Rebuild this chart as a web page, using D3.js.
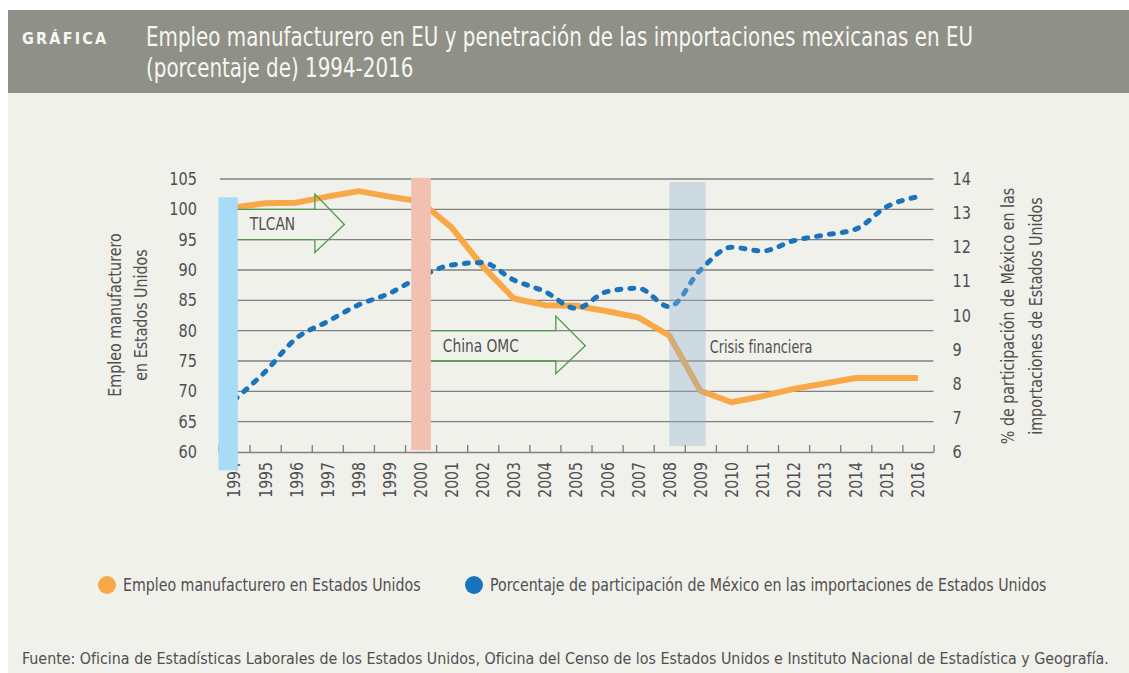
<!DOCTYPE html>
<html lang="es">

<head>
    <meta charset="UTF-8">
    <script src="https://d3js.org/d3.v7.min.js"></script>
    <title>Empleo manufacturero en EU</title>
    <style>
        body {
            margin: 0;
            background: #ffffff;
        }

        svg text {
            font-family: "Liberation Sans Narrow", "DejaVu Sans Condensed", "Roboto", sans-serif;
        }
    </style>
</head>

<body>
<div id="chart"></div>

<script>
    /*------------------- Data --------------------*/
    const years = d3.range(1994, 2017);

    // Empleo manufacturero en Estados Unidos (indice, eje izquierdo)
    const empleo = [100.3, 101.0, 101.1, 102.1, 103.0, 102.1, 101.3, 97.0, 90.6, 85.3,
        84.2, 84.1, 83.2, 82.2, 79.2, 70.1, 68.2, 69.2, 70.4, 71.3, 72.2, 72.2, 72.2];

    // % de participacion de Mexico en las importaciones de EU (eje derecho)
    const participacion = [7.52, 8.35, 9.33, 9.82, 10.31, 10.65, 11.14, 11.48, 11.55, 11.04,
        10.70, 10.21, 10.70, 10.80, 10.26, 11.33, 12.00, 11.89, 12.19, 12.36, 12.53, 13.19, 13.48];

    const leftTicks = [60, 65, 70, 75, 80, 85, 90, 95, 100, 105];
    const rightTicks = [6, 7, 8, 9, 10, 11, 12, 13, 14];

    // shaded periods (start / end in years, top / bottom in left-axis units)
    const periods = [
        {name: "tlcan", start: 1993.5, end: 1994.12, top: 102.0, bottom: 57.0, color: "#a8dbf5", opacity: 1},
        {name: "omc", start: 1999.7, end: 2000.33, top: 105.2, bottom: 60.3, color: "#f1c0b0", opacity: 1},
        {name: "crisis", start: 2008.0, end: 2009.17, top: 104.5, bottom: 61.0, color: "#8fb1d0", opacity: 0.36}
    ];

    // annotation arrows (body between two left-axis values)
    const arrows = [
        {label: "TLCAN", start: 1994.12, bodyEnd: 1996.6, tip: 1997.55, hi: 100, lo: 95, headHi: 102.5, headLo: 92.9},
        {label: "China OMC", start: 2000.33, bodyEnd: 2004.35, tip: 2005.3, hi: 80, lo: 75, headHi: 82.4, headLo: 72.9}
    ];
    const crisisLabel = {label: "Crisis financiera", year: 2009.3, value: 77.3};

    const legendItems = [
        {label: "Empleo manufacturero en Estados Unidos", color: "#f8a847"},
        {label: "Porcentaje de participación de México en las importaciones de Estados Unidos", color: "#1a74bd"}
    ];

    /*------------------- Layout --------------------*/
    const width = 1129;
    const height = 673;
    const textColor = "#4f4f4f";

    // squeeze a text horizontally, the original font is a condensed one
    function condense(sel, k) {
        sel.each(function () {
            const w = this.getComputedTextLength();
            d3.select(this)
                .attr("textLength", w * k)
                .attr("lengthAdjust", "spacingAndGlyphs");
        });
        return sel;
    }

    const svg = d3.select("#chart").append("svg")
        .attr("width", width)
        .attr("height", height);

    // panel background
    svg.append("rect")
        .attr("x", 8).attr("y", 10)
        .attr("width", width - 8).attr("height", height - 10)
        .attr("fill", "#f1f1ec");

    // header
    svg.append("rect")
        .attr("x", 8).attr("y", 10)
        .attr("width", width - 8).attr("height", 83)
        .attr("fill", "#8f9088");

    svg.append("text")
        .attr("x", 22).attr("y", 44)
        .attr("fill", "#f7f7f2")
        .attr("font-size", 16)
        .attr("font-weight", "bold")
        .attr("letter-spacing", 2.2)
        .text("GRÁFICA");

    const titleLines = ["Empleo manufacturero en EU y penetración de las importaciones mexicanas en EU",
        "(porcentaje de) 1994-2016"];
    svg.append("g")
        .selectAll("text")
        .data(titleLines)
        .enter()
        .append("text")
        .attr("x", 146)
        .attr("y", (d, i) => 46 + i * 31)
        .attr("fill", "#f7f7f2")
        .attr("font-size", 26)
        .text(d => d)
        .call(condense, 0.85);

    /*------------------- Scales --------------------*/
    const x = d3.scaleLinear()
        .domain([1993.5, 2016.5])
        .range([218.5, 933.5]);

    const yLeft = d3.scaleLinear()
        .domain([60, 105])
        .range([452, 179]);

    const yRight = d3.scaleLinear()
        .domain([6, 14])
        .range([452, 179]);

    // gridlines
    svg.append("g")
        .selectAll("line")
        .data(leftTicks.filter(d => d > 60))
        .enter()
        .append("line")
        .attr("x1", 220).attr("x2", 933.5)
        .attr("y1", d => yLeft(d)).attr("y2", d => yLeft(d))
        .attr("stroke", "#808080")
        .attr("stroke-width", 1.4);

    // x axis: line with upward ticks between years
    const xTickAxis = svg.append("g")
        .attr("transform", `translate(0,${yLeft(60)})`)
        .call(d3.axisBottom(x)
            .tickValues([1993.5].concat(years.map(d => d + 0.5)))
            .tickSize(-7)
            .tickSizeOuter(0)
            .tickFormat(""));
    xTickAxis.select(".domain").attr("stroke", "#808080").attr("stroke-width", 1.4);
    xTickAxis.selectAll(".tick line").attr("stroke", "#808080").attr("stroke-width", 1.4);

    // x labels
    const xLabelAxis = svg.append("g")
        .attr("transform", `translate(0,${yLeft(60)})`)
        .call(d3.axisBottom(x)
            .tickValues(years)
            .tickSize(0)
            .tickFormat(d3.format("d")));
    xLabelAxis.select(".domain").remove();
    xLabelAxis.selectAll(".tick text")
        .attr("font-size", 17)
        .attr("fill", textColor)
        .attr("text-anchor", "end")
        .attr("dx", "-10px")
        .attr("dy", "0.35em")
        .attr("transform", "rotate(-90)")
        .attr("x", 0)
        .attr("y", 0)
        .call(condense, 0.92);

    // left axis labels
    const leftAxis = svg.append("g")
        .attr("transform", "translate(220,0)")
        .call(d3.axisLeft(yLeft).tickValues(leftTicks).tickSize(0).tickPadding(23));
    leftAxis.select(".domain").remove();
    leftAxis.selectAll(".tick text")
        .attr("font-size", 17.5)
        .attr("fill", textColor)
        .call(condense, 0.92);

    // right axis labels
    const rightAxis = svg.append("g")
        .attr("transform", "translate(933.5,0)")
        .call(d3.axisRight(yRight).tickValues(rightTicks).tickSize(0).tickPadding(19));
    rightAxis.select(".domain").remove();
    rightAxis.selectAll(".tick text")
        .attr("font-size", 17.5)
        .attr("fill", textColor)
        .call(condense, 0.92);

    // axis titles
    const leftTitle = ["Empleo manufacturero", "en Estados Unidos"];
    svg.append("g")
        .attr("transform", "translate(0,315) rotate(-90)")
        .selectAll("text")
        .data(leftTitle)
        .enter()
        .append("text")
        .attr("x", 0)
        .attr("y", (d, i) => 121 + i * 26)
        .attr("text-anchor", "middle")
        .attr("font-size", 18)
        .attr("fill", textColor)
        .text(d => d)
        .call(condense, 0.88);

    const rightTitle = ["% de participación de México en las", "importaciones de Estados Unidos"];
    svg.append("g")
        .attr("transform", "translate(0,316) rotate(-90)")
        .selectAll("text")
        .data(rightTitle)
        .enter()
        .append("text")
        .attr("x", 0)
        .attr("y", (d, i) => 1014 + i * 28)
        .attr("text-anchor", "middle")
        .attr("font-size", 18)
        .attr("fill", textColor)
        .text(d => d)
        .call(condense, 0.88);

    /*------------------- Series --------------------*/
    const empleoLine = d3.line()
        .x((d, i) => x(years[i]))
        .y(d => yLeft(d));

    const partLine = d3.line()
        .x((d, i) => x(years[i]))
        .y(d => yRight(d))
        .curve(d3.curveMonotoneX);

    svg.append("path")
        .datum(empleo)
        .attr("d", empleoLine)
        .attr("fill", "none")
        .attr("stroke", legendItems[0].color)
        .attr("stroke-width", 6)
        .attr("stroke-linejoin", "round");

    svg.append("path")
        .datum(participacion)
        .attr("d", partLine)
        .attr("fill", "none")
        .attr("stroke", legendItems[1].color)
        .attr("stroke-width", 5)
        .attr("stroke-linecap", "round")
        .attr("stroke-dasharray", "4,9");

    /*------------------- Periods & annotations --------------------*/
    svg.append("g")
        .selectAll("rect")
        .data(periods)
        .enter()
        .append("rect")
        .attr("x", d => x(d.start))
        .attr("width", d => x(d.end) - x(d.start))
        .attr("y", d => yLeft(d.top))
        .attr("height", d => yLeft(d.bottom) - yLeft(d.top))
        .attr("fill", d => d.color)
        .attr("fill-opacity", d => d.opacity);

    const arrowGroup = svg.append("g");
    arrowGroup.selectAll("path")
        .data(arrows)
        .enter()
        .append("path")
        .attr("d", d => {
            const p = d3.path();
            const mid = (yLeft(d.hi) + yLeft(d.lo)) / 2;
            p.moveTo(x(d.start), yLeft(d.hi));
            p.lineTo(x(d.bodyEnd), yLeft(d.hi));
            p.lineTo(x(d.bodyEnd), yLeft(d.headHi));
            p.lineTo(x(d.tip), mid);
            p.lineTo(x(d.bodyEnd), yLeft(d.headLo));
            p.lineTo(x(d.bodyEnd), yLeft(d.lo));
            p.lineTo(x(d.start), yLeft(d.lo));
            return p.toString();
        })
        .attr("fill", "none")
        .attr("stroke", "#4c9c4c")
        .attr("stroke-width", 1.3);

    arrowGroup.selectAll("text")
        .data(arrows)
        .enter()
        .append("text")
        .attr("x", d => x(d.start) + 12)
        .attr("y", d => (yLeft(d.hi) + yLeft(d.lo)) / 2)
        .attr("dy", "0.35em")
        .attr("font-size", 17)
        .attr("fill", textColor)
        .text(d => d.label)
        .call(condense, 0.9);

    svg.append("text")
        .attr("x", x(crisisLabel.year))
        .attr("y", yLeft(crisisLabel.value))
        .attr("dy", "0.35em")
        .attr("font-size", 17)
        .attr("fill", textColor)
        .text(crisisLabel.label)
        .call(condense, 0.84);

    /*------------------- Legend --------------------*/
    const legendX = [107, 474];
    const legend = svg.append("g")
        .selectAll("g")
        .data(legendItems)
        .enter()
        .append("g")
        .attr("transform", (d, i) => `translate(${legendX[i]},585)`);
    legend.append("circle")
        .attr("r", 9)
        .attr("fill", d => d.color);
    legend.append("text")
        .attr("x", 16)
        .attr("dy", "0.35em")
        .attr("font-size", 17.5)
        .attr("fill", textColor)
        .text(d => d.label)
        .call(condense, 0.9);

    // source note
    svg.append("text")
        .attr("x", 22)
        .attr("y", 664)
        .attr("font-size", 16)
        .attr("fill", textColor)
        .text("Fuente: Oficina de Estadísticas Laborales de los Estados Unidos, Oficina del Censo de los Estados Unidos e Instituto Nacional de Estadística y Geografía.")
        .call(condense, 0.99);
</script>
</body>

</html>
